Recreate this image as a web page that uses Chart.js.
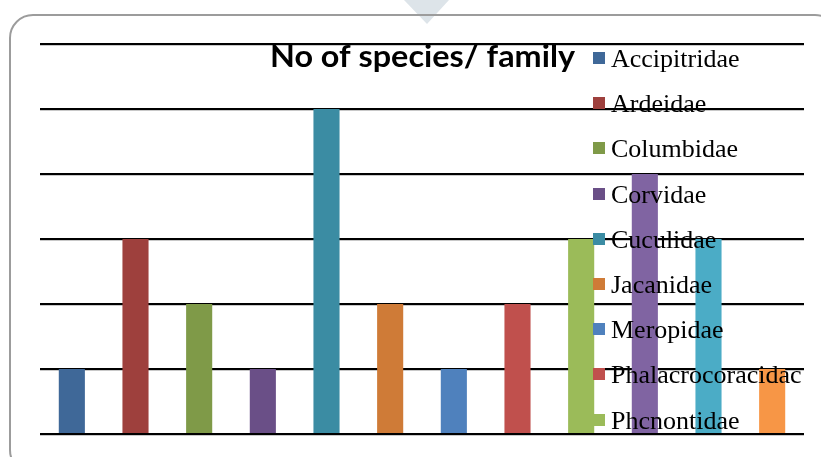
<!DOCTYPE html>
<html>
<head>
<meta charset="utf-8">
<title>No of species/ family</title>
<script src="https://cdn.jsdelivr.net/npm/chart.js@4.4.1/dist/chart.umd.min.js"></script>
<style>
  html, body { margin: 0; padding: 0; background: #fff; overflow: hidden; }
  #wrap { position: relative; width: 821px; height: 457px; overflow: hidden; }
  #notch {
    position: absolute; left: 0; top: 0; width: 821px; height: 30px;
    background: #dde4e9;
    clip-path: polygon(404px 0, 449px 0, 427px 24px);
  }
  #frame {
    position: absolute; left: 9px; top: 14px; width: 830px; height: 460px;
    border: 2px solid #9c9c9c; border-radius: 24px; box-sizing: border-box;
  }
  canvas { position: absolute; left: 0; top: 0; }
</style>
</head>
<body>
<div id="wrap">
  <div id="notch"></div>
  <div id="frame"></div>
  <canvas id="c" width="821" height="457"></canvas>
</div>
<script>
// Bird families and the number of species recorded in each
const families = [
  'Accipitridae', 'Ardeidae', 'Columbidae', 'Corvidae', 'Cuculidae', 'Jacanidae',
  'Meropidae', 'Phalacrocoracidac', 'Phcnontidae', 'Psittacidae', 'Rallidae', 'Sturnidae'
];
const speciesCount = [1, 3, 2, 1, 5, 2, 1, 2, 3, 4, 3, 1];
const barColors = [
  '#3f6898', '#9e403d', '#7f9a48', '#6a4f87', '#3b8ca3', '#cf7b37',
  '#4f81bd', '#c0504d', '#9bbb59', '#8064a2', '#4bacc6', '#f79646'
];
const yMin = 0;
const yMax = 6;
const yStep = 1;
const chartTitle = 'No of species/ family';

// Title and legend are drawn over the plot area, the way the sheet laid them out
const overlayPlugin = {
  id: 'overlay',
  beforeDatasetsDraw(chart) {
    const { ctx, chartArea, scales } = chart;
    ctx.save();
    ctx.strokeStyle = '#c8c8c8';
    ctx.lineWidth = 1;
    for (let v = yMin; v <= yMax; v += yStep) {
      const y = Math.round(scales.y.getPixelForValue(v)) + 1.5;
      ctx.beginPath();
      ctx.moveTo(chartArea.left, y);
      ctx.lineTo(chartArea.right, y);
      ctx.stroke();
    }
    ctx.restore();
  },
  afterDraw(chart) {
    const { ctx } = chart;
    ctx.save();
    // title
    ctx.font = 'bold 30px Lato';
    ctx.fillStyle = '#000';
    ctx.textBaseline = 'alphabetic';
    const w = ctx.measureText(chartTitle).width;
    const targetW = 305;
    ctx.translate(270, 67);
    ctx.scale(targetW / w, 1);
    ctx.fillText(chartTitle, 0, 0);
    ctx.restore();

    // legend
    ctx.save();
    ctx.font = '26px "Liberation Serif"';
    ctx.textBaseline = 'alphabetic';
    families.forEach((name, i) => {
      const cy = 58 + i * 45.2;
      ctx.fillStyle = barColors[i];
      ctx.fillRect(593, Math.round(cy - 6), 12, 12);
      ctx.fillStyle = '#000';
      ctx.fillText(name, 611, cy + 9);
    });
    ctx.restore();
  }
};

new Chart(document.getElementById('c'), {
  type: 'bar',
  data: {
    labels: families,
    datasets: [{
      label: chartTitle,
      data: speciesCount,
      backgroundColor: barColors,
      borderWidth: 0,
      categoryPercentage: 1,
      barPercentage: 0.41
    }]
  },
  options: {
    responsive: false,
    animation: false,
    layout: { padding: { left: 40, right: 17, top: 44, bottom: 23 } },
    plugins: {
      legend: { display: false },
      title: { display: false },
      tooltip: { enabled: false }
    },
    scales: {
      x: { display: false },
      y: {
        min: yMin,
        max: yMax,
        ticks: { display: false, stepSize: yStep },
        grid: { color: '#000', lineWidth: 2, drawTicks: false },
        border: { display: false }
      }
    }
  },
  plugins: [overlayPlugin]
});
</script>
</body>
</html>
